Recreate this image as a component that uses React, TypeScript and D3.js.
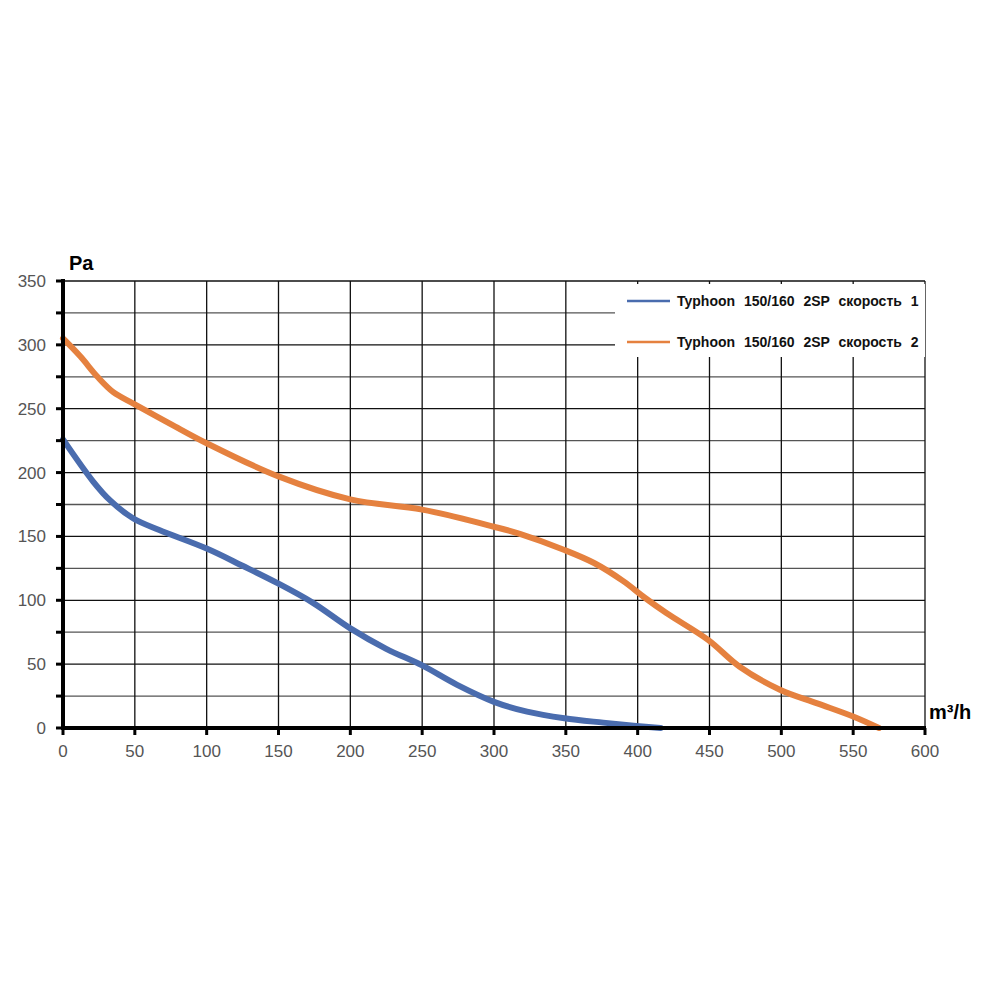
import React from "react";
import * as d3 from "d3";

// flow, m3/h
const speed1Flow = [0, 21, 33, 49, 67, 100, 125, 150, 174, 200, 225, 250, 274, 300, 323, 349, 376, 399, 416];
// pressure, Pa
const speed1Pa = [226, 193, 178, 164, 155, 140.5, 127, 113, 98, 78, 62, 49, 34, 20.5, 12.8, 7.6, 4.2, 1.6, 0];

const speed2Flow = [0, 12, 24, 35, 49, 75, 100, 150, 200, 250, 300, 318, 349, 370, 390, 405, 420, 449, 471, 499, 525, 550, 568];
const speed2Pa = [305, 291, 275, 263, 254, 238, 223, 197, 179, 171, 157.6, 152, 139.4, 129, 115, 102, 90, 69, 48, 30, 19.3, 9, 0];

const seriesNames = ["Typhoon 150/160 2SP скорость 1", "Typhoon 150/160 2SP скорость 2"];
const seriesColors = ["#4a6cae", "#e5813f"];

const xTicks = d3.range(0, 601, 50);
const yTicks = d3.range(0, 351, 50);
const yMinor = d3.range(25, 351, 50);

const App = () => {
  const x = d3.scaleLinear().domain([0, 600]).range([63, 925]);
  const y = d3.scaleLinear().domain([0, 350]).range([728, 281]);

  const line = d3
    .line<[number, number]>()
    .x((d) => x(d[0]))
    .y((d) => y(d[1]))
    .curve(d3.curveCatmullRom.alpha(0.5));

  const series = [
    speed1Flow.map((f, i) => [f, speed1Pa[i]] as [number, number]),
    speed2Flow.map((f, i) => [f, speed2Pa[i]] as [number, number]),
  ];

  const font = "'Liberation Sans', Arial, sans-serif";

  return (
    <svg width={1000} height={1000} style={{ position: "absolute", left: 0, top: 0, background: "#fff" }} fontFamily={font}>
      {/* grid */}
      {yMinor.map((v) => (
        <line key={"ym" + v} x1={x(0)} x2={x(600)} y1={y(v)} y2={y(v)} stroke="#555" strokeWidth={1.3} />
      ))}
      {yTicks.map((v) => (
        <line key={"yg" + v} x1={x(0)} x2={x(600)} y1={y(v)} y2={y(v)} stroke="#111" strokeWidth={1.3} />
      ))}
      {xTicks.map((v) => (
        <line key={"xg" + v} x1={x(v)} x2={x(v)} y1={y(0)} y2={y(350)} stroke="#111" strokeWidth={1.3} />
      ))}

      {/* legend box */}
      <rect x={615} y={284} width={310} height={73} fill="#fff" />
      {seriesNames.map((name, i) => (
        <g key={name} transform={`translate(0, ${301 + i * 41})`}>
          <line x1={627} x2={670} y1={0} y2={0} stroke={seriesColors[i]} strokeWidth={2.5} />
          <text x={677} y={5} fontSize={14} fontWeight="bold" fill="#111" wordSpacing={5}>
            {name}
          </text>
        </g>
      ))}

      {/* curves */}
      {series.map((s, i) => (
        <path key={i} d={line(s) || ""} fill="none" stroke={seriesColors[i]} strokeWidth={6} strokeLinecap="round" strokeLinejoin="round" />
      ))}

      {/* axes */}
      <line x1={x(0)} x2={x(0)} y1={y(350) - 2} y2={y(0) + 2} stroke="#000" strokeWidth={4} />
      <line x1={x(0) - 2} x2={x(600) + 1} y1={y(0)} y2={y(0)} stroke="#000" strokeWidth={4} />
      {d3.range(0, 351, 25).map((v) => (
        <line key={"yt" + v} x1={x(0) - 7} x2={x(0)} y1={y(v)} y2={y(v)} stroke="#000" strokeWidth={3} />
      ))}
      {xTicks.map((v) => (
        <line key={"xt" + v} x1={x(v)} x2={x(v)} y1={y(0)} y2={y(0) + 7} stroke="#000" strokeWidth={3} />
      ))}

      {yTicks.map((v) => (
        <text key={"yl" + v} x={46} y={y(v) + 6} textAnchor="end" fontSize={17} fill="#555">
          {v}
        </text>
      ))}
      {xTicks.map((v) => (
        <text key={"xl" + v} x={x(v)} y={757} textAnchor="middle" fontSize={17} fill="#555">
          {v}
        </text>
      ))}

      <text x={69} y={270} fontSize={20} fontWeight="bold" fill="#000">
        Pa
      </text>
      <text x={929} y={719} fontSize={20} fontWeight="bold" fill="#000">
        m³/h
      </text>
    </svg>
  );
};

export default App;
